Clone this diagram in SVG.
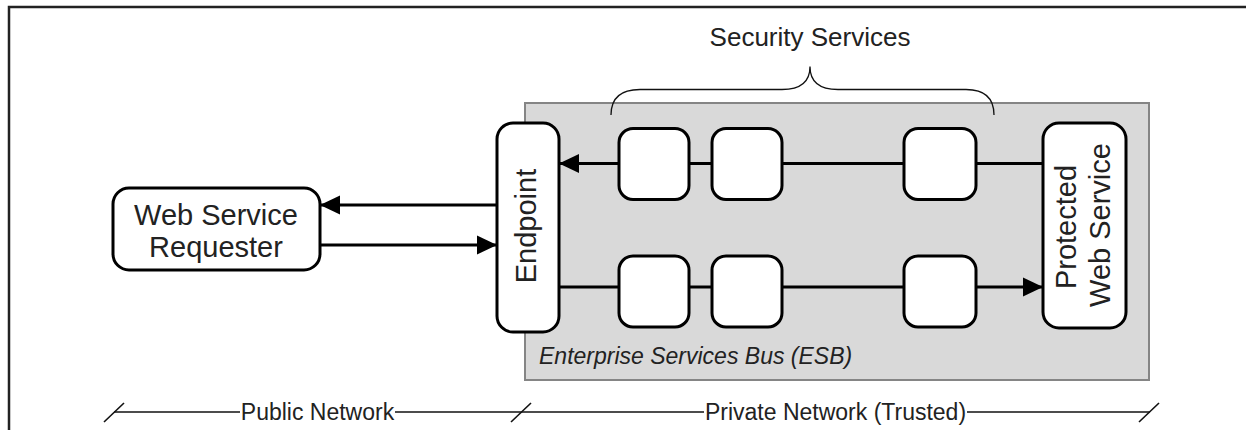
<svg xmlns="http://www.w3.org/2000/svg" width="1246" height="430" viewBox="0 0 1246 430">
<style>
.frame{fill:none;stroke:#222;stroke-width:2.5}
.esb{fill:#d9d9d9;stroke:#858585;stroke-width:2}
.node{fill:#fff;stroke:#000;stroke-width:3}
.conn{fill:none;stroke:#000;stroke-width:3}
.thin{fill:none;stroke:#111;stroke-width:1.6}
.brace{fill:none;stroke:#111;stroke-width:1.3}
.lbl{font-family:"Liberation Sans",Arial,sans-serif;fill:#222}
.big{font-size:29px}
.mid{font-size:26px}
.sm{font-size:23px}
</style>
<defs>
<marker id="arr" markerUnits="userSpaceOnUse" markerWidth="20" markerHeight="20" viewBox="0 0 20 20" refX="20" refY="10" orient="auto">
<path d="M0,0.5 L20,10 L0,19.5 z" fill="#000"/>
</marker>
</defs>
<rect width="1246" height="430" fill="#fff"/>
<path class="frame" d="M9,430 V7 H1246"/>

<g id="esb">
<rect class="esb" x="525" y="103" width="624" height="277"/>
<text class="lbl sm" x="539" y="364" font-style="italic">Enterprise Services Bus (ESB)</text>
</g>

<g id="security-services">
<path class="brace" d="M611,115 C611,99 620,89.5 640,89.5 L782,89.5 C802,89.5 810,81 810,66.5 C810,81 818,89.5 838,89.5 L966,89.5 C986,89.5 994,99 994,115"/>
<text class="lbl mid" x="810" y="46" text-anchor="middle">Security Services</text>
</g>

<g id="connectors">
<line class="conn" x1="497" y1="205" x2="320" y2="205" marker-end="url(#arr)"/>
<line class="conn" x1="320" y1="245" x2="497" y2="245" marker-end="url(#arr)"/>
<line class="conn" x1="1043" y1="163.5" x2="976" y2="163.5"/>
<line class="conn" x1="903" y1="163.5" x2="782" y2="163.5"/>
<line class="conn" x1="712" y1="163.5" x2="689" y2="163.5"/>
<line class="conn" x1="619" y1="163.5" x2="559" y2="163.5" marker-end="url(#arr)"/>
<line class="conn" x1="559" y1="287" x2="619" y2="287"/>
<line class="conn" x1="689" y1="287" x2="712" y2="287"/>
<line class="conn" x1="782" y1="287" x2="903" y2="287"/>
<line class="conn" x1="976" y1="287" x2="1043" y2="287" marker-end="url(#arr)"/>
</g>

<g id="requester">
<rect class="node" x="113" y="188" width="207" height="82" rx="16"/>
<text class="lbl big" x="216" y="225" text-anchor="middle">Web Service</text>
<text class="lbl big" x="216" y="257" text-anchor="middle">Requester</text>
</g>

<g id="endpoint">
<rect class="node" x="497" y="123" width="62" height="209" rx="16"/>
<text class="lbl big" transform="translate(536,226) rotate(-90)" text-anchor="middle">Endpoint</text>
</g>

<g id="protected">
<rect class="node" x="1043" y="123" width="83" height="205" rx="16"/>
<text class="lbl big" transform="translate(1076,227) rotate(-90)" text-anchor="middle">Protected</text>
<text class="lbl big" transform="translate(1110,225) rotate(-90)" text-anchor="middle">Web Service</text>
</g>

<g id="sec-out-1"><rect class="node" x="619" y="128.5" width="70" height="71" rx="14"/></g>
<g id="sec-out-2"><rect class="node" x="712" y="128.5" width="70" height="71" rx="14"/></g>
<g id="sec-out-3"><rect class="node" x="904" y="128.5" width="72" height="71" rx="14"/></g>
<g id="sec-in-1"><rect class="node" x="619" y="256" width="70" height="71" rx="14"/></g>
<g id="sec-in-2"><rect class="node" x="712" y="256" width="70" height="71" rx="14"/></g>
<g id="sec-in-3"><rect class="node" x="904" y="256" width="72" height="71" rx="14"/></g>

<g id="networks">
<line class="thin" x1="114" y1="412" x2="240" y2="412"/>
<line class="thin" x1="395" y1="412" x2="704" y2="412"/>
<line class="thin" x1="967" y1="412" x2="1150" y2="412"/>
<line class="thin" x1="104" y1="422" x2="124" y2="403"/>
<line class="thin" x1="511" y1="422" x2="531" y2="403"/>
<line class="thin" x1="1139" y1="422" x2="1159" y2="403"/>
<text class="lbl sm" x="317.5" y="420" text-anchor="middle">Public Network</text>
<text class="lbl sm" x="835.5" y="420" text-anchor="middle">Private Network (Trusted)</text>
</g>
</svg>
